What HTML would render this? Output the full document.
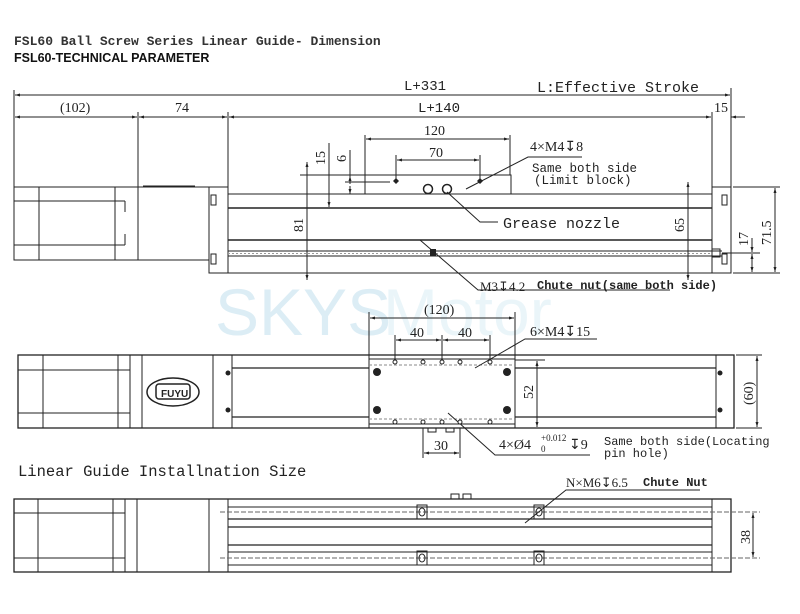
<!DOCTYPE html>
<html><head><meta charset="utf-8"><style>
html,body{margin:0;padding:0;background:#fff;width:800px;height:614px;overflow:hidden}
svg{display:block;font-family:"Liberation Mono",monospace}
text{fill:#222}
</style></head><body>
<svg width="800" height="614" viewBox="0 0 800 614" xmlns="http://www.w3.org/2000/svg">
<defs>
<marker id="a" viewBox="0 0 10 10" refX="10" refY="5" markerWidth="7" markerHeight="5" orient="auto-start-reverse"><path d="M0,2 L10,5 L0,8 z" fill="#222"/></marker>
</defs>
<!-- watermark -->
<text x="215" y="335" style="font-family:'Liberation Sans',sans-serif;font-size:66px;fill:#dcedf5">SKYS</text>
<text x="383" y="335" style="font-family:'Liberation Sans',sans-serif;font-size:66px;fill:#eaf5f9">Motor</text>

<text x="14" y="45" style="font-family:'Liberation Mono',monospace;font-size:13px;font-weight:bold;fill:#333">FSL60 Ball Screw Series Linear Guide- Dimension</text>
<text x="14" y="62" style="font-family:'Liberation Sans',sans-serif;font-size:12.5px;font-weight:bold;fill:#111">FSL60-TECHNICAL PARAMETER</text>

<g stroke="#222" fill="none" stroke-width="1">
<line x1="14" y1="90" x2="14" y2="187"/><line x1="731" y1="88" x2="731" y2="187"/>
<line x1="138" y1="112" x2="138" y2="187"/><line x1="228" y1="112" x2="228" y2="187"/>
<line x1="712" y1="112" x2="712" y2="187"/>
<line x1="15" y1="95" x2="730" y2="95" marker-start="url(#a)" marker-end="url(#a)"/>
<line x1="15" y1="117" x2="137" y2="117" marker-start="url(#a)" marker-end="url(#a)"/>
<line x1="139" y1="117" x2="227" y2="117" marker-start="url(#a)" marker-end="url(#a)"/>
<line x1="229" y1="117" x2="711" y2="117" marker-start="url(#a)" marker-end="url(#a)"/>
<line x1="731" y1="117" x2="745" y2="117" marker-start="url(#a)"/>
<line x1="365" y1="135" x2="365" y2="175"/><line x1="510" y1="135" x2="510" y2="175"/>
<line x1="366" y1="139" x2="509" y2="139" marker-start="url(#a)" marker-end="url(#a)"/>
<line x1="396" y1="155" x2="396" y2="180"/><line x1="480" y1="155" x2="480" y2="180"/>
<line x1="397" y1="160" x2="479" y2="160" marker-start="url(#a)" marker-end="url(#a)"/>
<line x1="329" y1="143" x2="329" y2="207" marker-end="url(#a)"/>
<line x1="350" y1="150" x2="350" y2="184"/>
<line x1="350" y1="184" x2="350" y2="176" marker-end="url(#a)"/>
<line x1="350" y1="186" x2="350" y2="194" marker-end="url(#a)"/>
<line x1="300" y1="175" x2="365" y2="175"/><line x1="345" y1="182" x2="390" y2="182"/>
<line x1="307" y1="162" x2="307" y2="280" marker-start="url(#a)" marker-end="url(#a)"/>
<rect x="14" y="187" width="124" height="73"/>
<line x1="39" y1="187" x2="39" y2="260"/><line x1="115" y1="187" x2="115" y2="260"/>
<line x1="14" y1="201" x2="125" y2="201"/><line x1="14" y1="245" x2="125" y2="245"/>
<line x1="125" y1="201" x2="125" y2="212"/><line x1="125" y1="234" x2="125" y2="245"/>
<rect x="138" y="187" width="71" height="73"/>
<line x1="143" y1="186" x2="195" y2="186"/>
<rect x="209" y="187" width="19" height="86"/>
<rect x="211" y="195" width="5" height="10"/><rect x="211" y="254" width="5" height="10"/>
<line x1="228" y1="194" x2="712" y2="194"/>
<line x1="228" y1="208" x2="712" y2="208" stroke-width="1.5"/>
<line x1="228" y1="240" x2="712" y2="240" stroke-width="1.5"/>
<line x1="228" y1="251" x2="722" y2="251"/><line x1="228" y1="256" x2="722" y2="256"/>
<line x1="228" y1="253.5" x2="712" y2="253.5" stroke="#999" stroke-dasharray="2 2"/>
<line x1="228" y1="273" x2="712" y2="273"/>
<rect x="712" y="187" width="19" height="86"/>
<rect x="722" y="195" width="5" height="10"/><rect x="722" y="254" width="5" height="10"/>
<rect x="712" y="249" width="8" height="8"/>
<rect x="365" y="175" width="146" height="19"/>
<circle cx="428" cy="189" r="4.5" stroke-width="1.5"/><circle cx="447" cy="189" r="4.5" stroke-width="1.5"/>
<path d="M447,192 L480,222 L498,222"/>
<path d="M466,189 L528,157 L582,157"/>
<line x1="688" y1="182" x2="688" y2="280" marker-start="url(#a)" marker-end="url(#a)"/>
<line x1="733" y1="187" x2="780" y2="187"/><line x1="733" y1="273" x2="780" y2="273"/>
<line x1="722" y1="253" x2="760" y2="253"/>
<line x1="775" y1="188" x2="775" y2="272" marker-start="url(#a)" marker-end="url(#a)"/>
<line x1="752" y1="254" x2="752" y2="272" marker-start="url(#a)" marker-end="url(#a)"/>
<line x1="752" y1="238" x2="752" y2="252" marker-end="url(#a)"/>
<path d="M420,240 L478,290 L670,290"/>
</g>
<rect x="430" y="249" width="6" height="7" fill="#222"/>
<g fill="#222"><path d="M396,178 l3,3 -3,3 -3,-3z"/><path d="M480,178 l3,3 -3,3 -3,-3z"/></g>
<g style="font-size:14px">
<text x="404" y="90">L+331</text>
<text x="537" y="92" style="font-size:15px">L:Effective Stroke</text>
<text x="60" y="112" style="font-family:'Liberation Serif',serif">(102)</text>
<text x="175" y="112" style="font-family:'Liberation Serif',serif">74</text>
<text x="418" y="112">L+140</text>
<text x="714" y="112" style="font-family:'Liberation Serif',serif">15</text>
<text x="424" y="135" style="font-family:'Liberation Serif',serif">120</text>
<text x="429" y="157" style="font-family:'Liberation Serif',serif">70</text>
<text x="530" y="151" style="font-family:'Liberation Serif',serif">4×M4&#8615;8</text>
<text x="532" y="172" style="font-size:12.5px">Same both side</text>
<text x="534" y="184" style="font-size:12.5px">(Limit block)</text>
<text x="503" y="228" style="font-size:15px">Grease nozzle</text>
<text x="480" y="291" style="font-family:'Liberation Serif',serif;font-size:13px">M3&#8615;4.2</text>
<text x="537" y="289" style="font-size:12px;font-weight:bold">Chute nut(same both side)</text>
<text transform="translate(325,165) rotate(-90)" style="font-family:'Liberation Serif',serif">15</text>
<text transform="translate(346,162) rotate(-90)" style="font-family:'Liberation Serif',serif">6</text>
<text transform="translate(303,232) rotate(-90)" style="font-family:'Liberation Serif',serif">81</text>
<text transform="translate(684,232) rotate(-90)" style="font-family:'Liberation Serif',serif">65</text>
<text transform="translate(748,246) rotate(-90)" style="font-family:'Liberation Serif',serif">17</text>
<text transform="translate(771,245) rotate(-90)" style="font-family:'Liberation Serif',serif">71.5</text>
</g>

<g stroke="#222" fill="none" stroke-width="1">
<rect x="18" y="355" width="716" height="73" stroke-width="1.3"/>
<line x1="43" y1="355" x2="43" y2="428"/><line x1="118" y1="355" x2="118" y2="428"/>
<line x1="130" y1="355" x2="130" y2="428"/><line x1="142" y1="355" x2="142" y2="428"/>
<line x1="18" y1="370" x2="130" y2="370"/><line x1="18" y1="413" x2="130" y2="413"/>
<line x1="213" y1="355" x2="213" y2="428"/><line x1="232" y1="355" x2="232" y2="428"/>
<ellipse cx="173" cy="392" rx="26" ry="14" stroke-width="1.5"/>
<rect x="156" y="384" width="34" height="15" rx="3" stroke-width="1.5"/>
<line x1="232" y1="368" x2="369" y2="368" stroke-width="1.3"/><line x1="232" y1="417" x2="369" y2="417" stroke-width="1.3"/>
<line x1="515" y1="368" x2="716" y2="368" stroke-width="1.3"/><line x1="515" y1="417" x2="716" y2="417" stroke-width="1.3"/>
<line x1="716" y1="355" x2="716" y2="428"/>
<rect x="369" y="355" width="146" height="73"/>
<line x1="369" y1="359" x2="515" y2="359"/><line x1="369" y1="365" x2="515" y2="365" stroke="#888" stroke-dasharray="3 2"/>
<line x1="369" y1="424" x2="515" y2="424"/><line x1="369" y1="419" x2="515" y2="419" stroke="#888" stroke-dasharray="3 2"/>
<line x1="369" y1="312" x2="369" y2="355"/><line x1="515" y1="312" x2="515" y2="355"/>
<line x1="370" y1="318" x2="514" y2="318" marker-start="url(#a)" marker-end="url(#a)"/>
<line x1="395" y1="335" x2="395" y2="362"/><line x1="442" y1="335" x2="442" y2="362"/><line x1="490" y1="335" x2="490" y2="362"/>
<line x1="396" y1="340" x2="441" y2="340" marker-start="url(#a)" marker-end="url(#a)"/>
<line x1="443" y1="340" x2="489" y2="340" marker-start="url(#a)" marker-end="url(#a)"/>
<path d="M475,368 L525,339 L597,339"/>
<line x1="515" y1="360" x2="545" y2="360"/><line x1="515" y1="428" x2="545" y2="428"/>
<line x1="537" y1="361" x2="537" y2="427" marker-start="url(#a)" marker-end="url(#a)"/>
<line x1="736" y1="355" x2="762" y2="355"/><line x1="736" y1="428" x2="762" y2="428"/>
<line x1="757" y1="356" x2="757" y2="427" marker-start="url(#a)" marker-end="url(#a)"/>
<line x1="423" y1="428" x2="423" y2="458"/><line x1="460" y1="428" x2="460" y2="458"/>
<line x1="424" y1="453" x2="459" y2="453" marker-start="url(#a)" marker-end="url(#a)"/>
<path d="M448,413 L495,455 L590,455"/>
<rect x="428" y="428" width="8" height="4"/><rect x="446" y="428" width="8" height="4"/>
</g>
<g fill="#222">
<circle cx="228" cy="373" r="2.5"/><circle cx="228" cy="410" r="2.5"/>
<circle cx="720" cy="373" r="2.5"/><circle cx="720" cy="410" r="2.5"/>
<circle cx="377" cy="372" r="4"/><circle cx="377" cy="410" r="4"/>
<circle cx="507" cy="372" r="4"/><circle cx="507" cy="410" r="4"/>
</g>
<g fill="#fff" stroke="#222">
<circle cx="395" cy="362" r="2"/><circle cx="423" cy="362" r="2"/><circle cx="442" cy="362" r="2"/><circle cx="460" cy="362" r="2"/><circle cx="490" cy="362" r="2"/>
<circle cx="395" cy="422" r="2"/><circle cx="423" cy="422" r="2"/><circle cx="442" cy="422" r="2"/><circle cx="460" cy="422" r="2"/><circle cx="490" cy="422" r="2"/>
</g>
<text x="161" y="397" style="font-family:'Liberation Sans',sans-serif;font-size:10px;font-weight:bold">FUYU</text>
<g style="font-family:'Liberation Serif',serif;font-size:14px">
<text x="424" y="314">(120)</text>
<text x="410" y="337">40</text><text x="458" y="337">40</text>
<text x="530" y="336">6×M4&#8615;15</text>
<text transform="translate(533,399) rotate(-90)">52</text>
<text transform="translate(753,405) rotate(-90)">(60)</text>
<text x="434" y="450">30</text>
<text x="499" y="449">4×Ø4</text>
<text x="541" y="441" style="font-size:9px">+0.012</text>
<text x="541" y="452" style="font-size:9px">0</text>
<text x="569" y="449">&#8615;9</text>
</g>
<text x="604" y="445" style="font-size:12px">Same both side(Locating</text>
<text x="604" y="457" style="font-size:12px">pin hole)</text>
<text x="18" y="476" style="font-size:15.5px">Linear Guide Installnation Size</text>

<g stroke="#222" fill="none" stroke-width="1">
<rect x="14" y="499" width="717" height="73" stroke-width="1.3"/>
<line x1="38" y1="499" x2="38" y2="572"/><line x1="113" y1="499" x2="113" y2="572"/>
<line x1="125" y1="499" x2="125" y2="572"/><line x1="137" y1="499" x2="137" y2="572"/>
<line x1="14" y1="513" x2="125" y2="513"/><line x1="14" y1="558" x2="125" y2="558"/>
<line x1="209" y1="499" x2="209" y2="572"/><line x1="228" y1="499" x2="228" y2="572"/>
<line x1="712" y1="499" x2="712" y2="572"/>
<line x1="228" y1="507" x2="712" y2="507"/>
<line x1="228" y1="519" x2="712" y2="519" stroke-width="1.3"/>
<line x1="228" y1="527" x2="712" y2="527" stroke-width="1.3"/>
<line x1="228" y1="545" x2="712" y2="545" stroke-width="1.3"/>
<line x1="228" y1="552" x2="712" y2="552"/>
<line x1="228" y1="565" x2="712" y2="565"/>
<line x1="220" y1="512" x2="760" y2="512" stroke="#666" stroke-dasharray="5 2"/>
<line x1="220" y1="558" x2="760" y2="558" stroke="#666" stroke-dasharray="5 2"/>
<rect x="417" y="505" width="10" height="14"/><rect x="534" y="505" width="10" height="14"/>
<rect x="417" y="551" width="10" height="14"/><rect x="534" y="551" width="10" height="14"/>
<ellipse cx="422" cy="512" rx="3" ry="4"/><ellipse cx="539" cy="512" rx="3" ry="4"/>
<ellipse cx="422" cy="558" rx="3" ry="4"/><ellipse cx="539" cy="558" rx="3" ry="4"/>
<rect x="451" y="494" width="8" height="5"/><rect x="463" y="494" width="8" height="5"/>
<path d="M525,523 L566,490 L700,490"/>
<line x1="753" y1="513" x2="753" y2="557" marker-start="url(#a)" marker-end="url(#a)"/>
</g>
<text x="566" y="487" style="font-family:'Liberation Serif',serif;font-size:13px">N×M6&#8615;6.5</text>
<text x="643" y="486" style="font-size:12px;font-weight:bold">Chute Nut</text>
<text transform="translate(750,544) rotate(-90)" style="font-family:'Liberation Serif',serif;font-size:14px">38</text>
</svg>
</body></html>
